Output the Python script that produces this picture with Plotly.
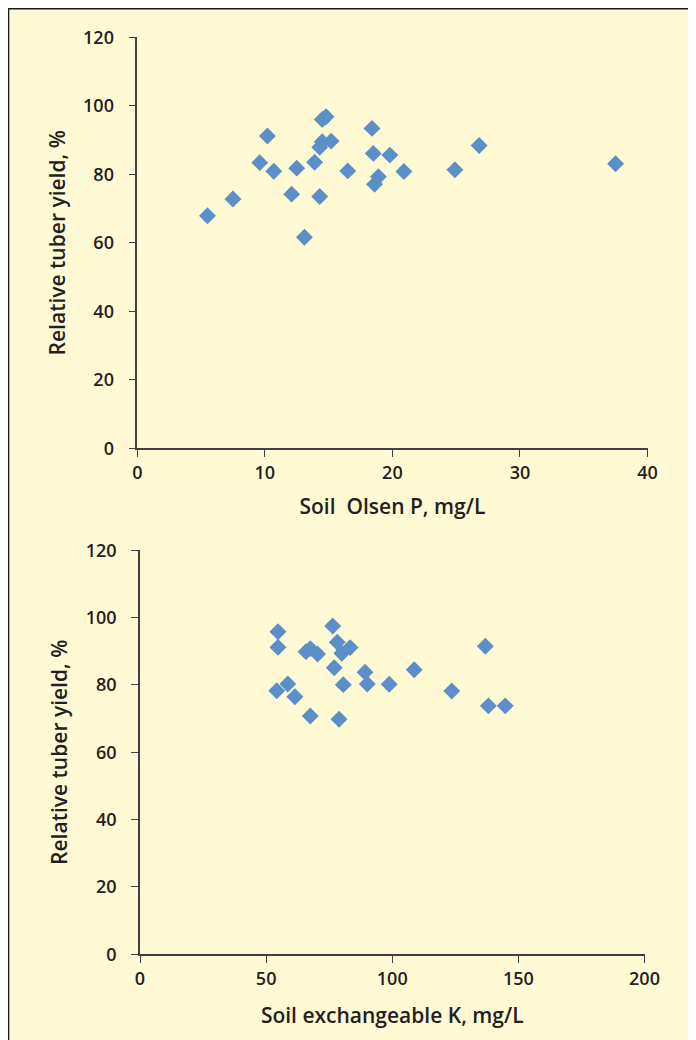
import plotly.graph_objects as go

# Top panel: Soil Olsen P (mg/L) vs relative tuber yield (%)
olsen_p = [5.5, 7.5, 9.6, 10.2, 10.7, 12.1, 12.5, 13.1, 13.9, 14.3, 14.5, 14.8,
           14.5, 14.3, 15.2, 16.5, 18.4, 18.5, 18.9, 18.6, 19.8, 20.9, 24.9, 26.8, 37.5]
yield_p = [67.9, 72.8, 83.4, 91.2, 80.9, 74.2, 81.8, 61.6, 83.5, 73.5, 96.0, 96.8,
           89.5, 87.9, 89.7, 81.0, 93.4, 86.1, 79.3, 77.1, 85.6, 80.8, 81.3, 88.4, 83.1]

# Bottom panel: Soil exchangeable K (mg/L) vs relative tuber yield (%)
exch_k = [54.7, 54.7, 76.4, 65.8, 67.5, 70.4, 78.2, 83.3, 80.0, 77.0, 80.6, 89.2,
          90.1, 98.8, 108.7, 54.2, 58.6, 61.4, 67.5, 78.9, 123.6, 136.9, 138.1, 144.8]
yield_k = [95.8, 91.2, 97.5, 89.9, 90.8, 89.2, 92.7, 91.1, 89.4, 85.1, 80.1, 83.8,
           80.3, 80.2, 84.5, 78.3, 80.3, 76.5, 70.8, 69.8, 78.2, 91.5, 73.8, 73.8]

y_ticks = [0, 20, 40, 60, 80, 100, 120]
p_ticks = [0, 10, 20, 30, 40]
k_ticks = [0, 50, 100, 150, 200]

# page body has an 8px margin, so the figure itself is 8px smaller each way
OFF = 8
W, H = 696 - OFF, 1040 - OFF
MARKER = "#5B8FC9"
TEXT = "#231F20"
FONT = "Open Sans"


def px_x(p):
    return (p - OFF) / W


def px_y(p):
    return 1 - (p - OFF) / H


fig = go.Figure()
fig.add_trace(go.Scatter(x=olsen_p, y=yield_p, mode="markers", xaxis="x", yaxis="y",
                         marker=dict(symbol="diamond", size=13, color=MARKER),
                         showlegend=False))
fig.add_trace(go.Scatter(x=exch_k, y=yield_k, mode="markers", xaxis="x2", yaxis="y2",
                         marker=dict(symbol="diamond", size=13, color=MARKER),
                         showlegend=False))

tick_font = dict(family=FONT, size=18, color=TEXT, weight=600)
title_font = dict(family=FONT, size=21, color=TEXT, weight=600)

axis_common = dict(
    showgrid=False, zeroline=False, showline=True, linecolor="#404040", linewidth=1.5,
    ticks="outside", ticklen=7, tickwidth=1.3, tickcolor="#404040",
    tickfont=tick_font, automargin=False, fixedrange=True,
)

fig.update_layout(
    width=W, height=H,
    margin=dict(l=0, r=0, t=0, b=0, pad=0),
    paper_bgcolor="white",
    plot_bgcolor="white",
    xaxis=dict(axis_common, domain=[px_x(137.3), px_x(647.5)], range=[0, 40],
               tickvals=p_ticks, anchor="y",
               title=dict(text="Soil  Olsen P, mg/L", standoff=17, font=title_font)),
    yaxis=dict(axis_common, domain=[px_y(448.3), px_y(37.3)], range=[0, 120],
               tickvals=y_ticks, anchor="x", ticklabelstandoff=11,
               title=dict(text="Relative tuber yield, %", standoff=12, font=title_font)),
    xaxis2=dict(axis_common, domain=[px_x(140.0), px_x(644.5)], range=[0, 200],
                tickvals=k_ticks, anchor="y2",
                title=dict(text="Soil exchangeable K, mg/L", standoff=20, font=title_font)),
    yaxis2=dict(axis_common, domain=[px_y(954.3), px_y(550.3)], range=[0, 120],
                tickvals=y_ticks, anchor="x2", ticklabelstandoff=11,
                title=dict(text="Relative tuber yield, %", standoff=12, font=title_font)),
    shapes=[dict(type="rect", xref="paper", yref="paper",
                 x0=0.0008, x1=1.2, y0=-0.2, y1=0.9992,
                 fillcolor="#FFFAD4", line=dict(color="#1A1A1A", width=1.5),
                 layer="below")],
)

fig.write_html("out.html")
